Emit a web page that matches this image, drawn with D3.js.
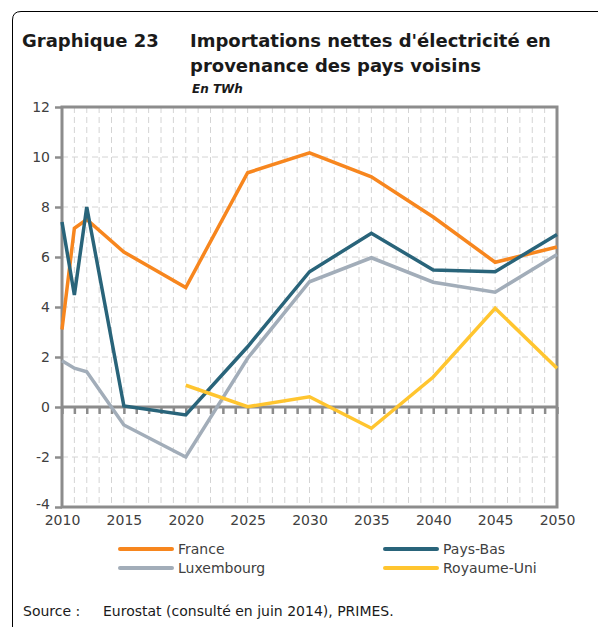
<!DOCTYPE html>
<html>
<head>
<meta charset="utf-8">
<script src="https://cdn.jsdelivr.net/npm/d3@7"></script>
<style>
  body { margin: 0; background: #fff; }
  svg { display: block; font-family: "DejaVu Sans", Verdana, sans-serif; }
</style>
</head>
<body>
<div id="chart"></div>
<script>
// values (TWh)
var yearsShort = [2010, 2011, 2012, 2015, 2020, 2025, 2030, 2035, 2040, 2045, 2050];
var yearsUk = [2020, 2025, 2030, 2035, 2040, 2045, 2050];
var france = [3.1, 7.15, 7.5, 6.2, 4.78, 9.37, 10.17, 9.21, 7.6, 5.79, 6.4];
var paysBas = [7.4, 4.48, 8.0, 0.04, -0.32, 2.41, 5.41, 6.95, 5.48, 5.41, 6.9];
var luxembourg = [1.85, 1.55, 1.41, -0.72, -2.0, 1.95, 5.01, 5.97, 4.99, 4.59, 6.1];
var royaumeUni = [0.87, 0.01, 0.41, -0.85, 1.2, 3.95, 1.55];
var yTicks = [-4, -2, 0, 2, 4, 6, 8, 10, 12];
var xTicks = [2010, 2015, 2020, 2025, 2030, 2035, 2040, 2045, 2050];

var series = [
    {name: 'France', years: yearsShort, values: france, color: '#f7861e'},
    {name: 'Pays-Bas', years: yearsShort, values: paysBas, color: '#29647a'},
    {name: 'Luxembourg', years: yearsShort, values: luxembourg, color: '#a2adb9'},
    {name: 'Royaume-Uni', years: yearsUk, values: royaumeUni, color: '#ffc52f'}
];

var W = 598, H = 627;
var plot = {left: 62, right: 557, top: 107, bottom: 507};
var axisColor = '#8c8c8c';
var textColor = '#404040';

var svg = d3.select('#chart').append('svg')
    .attr('width', W)
    .attr('height', H);

// outer frame, rounded top-left corner, open on the right / bottom
svg.append('path')
    .attr('d', 'M12.5,' + H + ' L12.5,20 Q12.5,11.5 21,11.5 L' + W + ',11.5')
    .attr('fill', 'none')
    .attr('stroke', '#000')
    .attr('stroke-width', 1);

// title
var title = svg.append('g').attr('fill', '#1a1a1a').style('font-weight', 'bold');
title.append('text').attr('x', 22).attr('y', 47).style('font-size', '18px').text('Graphique 23');
title.append('text').attr('x', 190).attr('y', 47).style('font-size', '18px').text("Importations nettes d'électricité en");
title.append('text').attr('x', 190).attr('y', 72).style('font-size', '18px').text('provenance des pays voisins');
title.append('text').attr('x', 192).attr('y', 93).style('font-size', '12px').style('font-style', 'italic').text('En TWh');

var x = d3.scaleLinear().domain([2010, 2050]).range([plot.left, plot.right]);
var y = d3.scaleLinear().domain([-4, 12]).range([plot.bottom, plot.top]);

// dashed grid: one vertical line per year, horizontal every 2 TWh
svg.append('g')
    .selectAll('line')
    .data(d3.range(2011, 2050))
    .join('line')
    .attr('x1', function (d) { return x(d); })
    .attr('x2', function (d) { return x(d); })
    .attr('y1', plot.top)
    .attr('y2', plot.bottom)
    .attr('stroke', '#d4d4d4')
    .attr('stroke-width', 1)
    .attr('stroke-dasharray', '6,4');

svg.append('g')
    .selectAll('line')
    .data(yTicks.filter(function (d) { return d !== 0 && d !== -4 && d !== 12; }))
    .join('line')
    .attr('x1', plot.left)
    .attr('x2', plot.right)
    .attr('y1', function (d) { return y(d); })
    .attr('y2', function (d) { return y(d); })
    .attr('stroke', '#d4d4d4')
    .attr('stroke-width', 1)
    .attr('stroke-dasharray', '6,4');

// y axis with ticks on the left (plain hyphen for negatives, like the source)
var yAxis = svg.append('g')
    .attr('transform', 'translate(' + plot.left + ',0)')
    .call(d3.axisLeft(y).tickValues(yTicks).tickSize(7).tickPadding(5)
        .tickFormat(function (d) { return String(d); }));
yAxis.select('.domain').remove();
yAxis.selectAll('line').attr('stroke', axisColor).attr('stroke-width', 2.5);
yAxis.selectAll('text')
    .attr('fill', textColor)
    .style('font-size', '14px')
    .style('font-family', '"DejaVu Sans", sans-serif');
// the bottom label sits a little higher so it clears "2010"
yAxis.selectAll('.tick')
    .filter(function (d) { return d === -4; })
    .select('text')
    .attr('dy', '0.1em');

// zero line with yearly ticks pointing down
var zeroAxis = svg.append('g')
    .attr('transform', 'translate(0,' + y(0) + ')')
    .call(d3.axisBottom(x).tickValues(d3.range(2010, 2051)).tickSize(7).tickFormat(''));
zeroAxis.select('.domain').remove();
zeroAxis.selectAll('line').attr('stroke', axisColor).attr('stroke-width', 2.5);

// x labels at the bottom
var xAxis = svg.append('g')
    .attr('transform', 'translate(0,' + plot.bottom + ')')
    .call(d3.axisBottom(x).tickValues(xTicks).tickSize(0).tickPadding(8)
        .tickFormat(function (d) { return String(d); }));
xAxis.select('.domain').remove();
xAxis.selectAll('text')
    .attr('fill', textColor)
    .style('font-size', '14px')
    .style('font-family', '"DejaVu Sans", sans-serif');

// plot frame + zero line
svg.append('rect')
    .attr('x', plot.left)
    .attr('y', plot.top)
    .attr('width', plot.right - plot.left)
    .attr('height', plot.bottom - plot.top)
    .attr('fill', 'none')
    .attr('stroke', axisColor)
    .attr('stroke-width', 3);

svg.append('line')
    .attr('x1', plot.left)
    .attr('x2', plot.right)
    .attr('y1', y(0))
    .attr('y2', y(0))
    .attr('stroke', axisColor)
    .attr('stroke-width', 3);

// series
var line = d3.line()
    .x(function (d) { return x(d[0]); })
    .y(function (d) { return y(d[1]); });

svg.append('g')
    .selectAll('path')
    .data(series)
    .join('path')
    .attr('d', function (s) { return line(d3.zip(s.years, s.values)); })
    .attr('fill', 'none')
    .attr('stroke', function (s) { return s.color; })
    .attr('stroke-width', 3.5)
    .attr('stroke-linejoin', 'miter');

// legend, two columns
var legendPos = [[120, 549], [385, 549], [120, 568], [385, 568]];
var leg = svg.append('g')
    .selectAll('g')
    .data(series)
    .join('g')
    .attr('transform', function (s, i) { return 'translate(' + legendPos[i][0] + ',' + legendPos[i][1] + ')'; });
leg.append('line')
    .attr('x1', 0).attr('x2', 52)
    .attr('stroke', function (s) { return s.color; })
    .attr('stroke-width', 4)
    .attr('stroke-linecap', 'round');
leg.append('text')
    .attr('x', 58)
    .attr('y', 5)
    .attr('fill', textColor)
    .style('font-size', '14px')
    .text(function (s) { return s.name; });

// source
var src = svg.append('g').attr('fill', '#1a1a1a').style('font-size', '14px');
src.append('text').attr('x', 23).attr('y', 616).text('Source :');
src.append('text').attr('x', 103).attr('y', 616).text('Eurostat (consulté en juin 2014), PRIMES.');
</script>
</body>
</html>
